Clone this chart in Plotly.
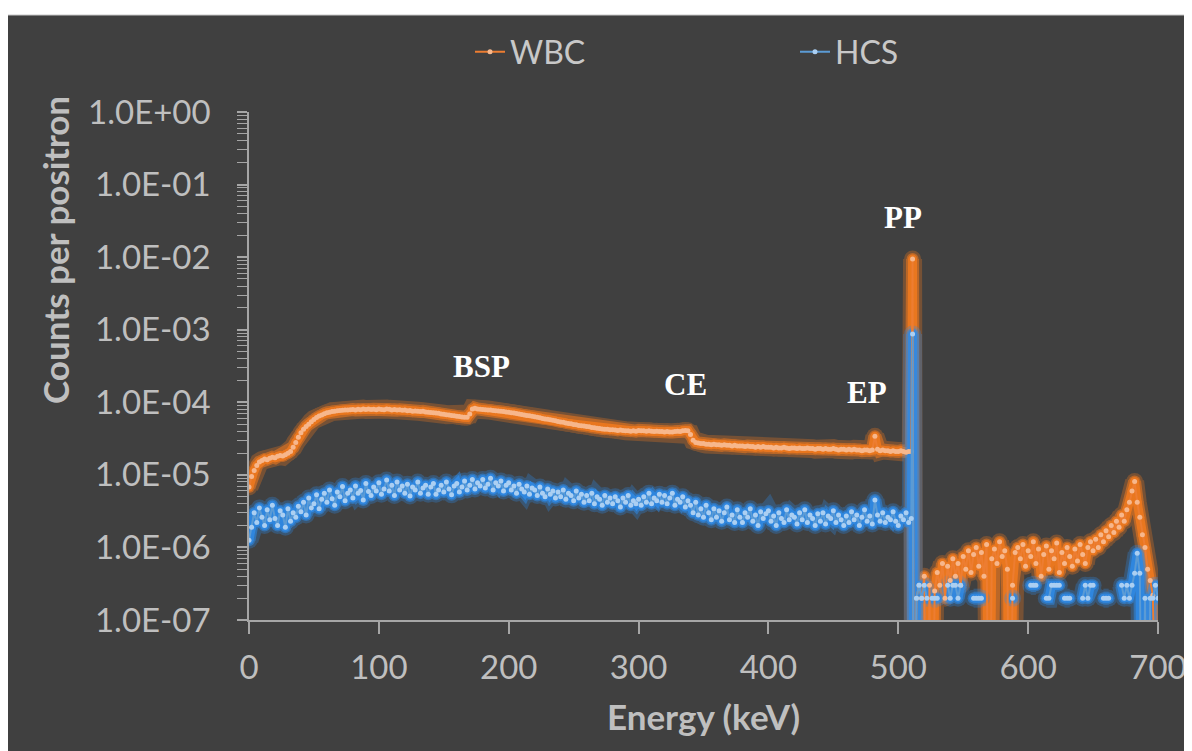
import plotly.graph_objects as go

# ---------------- data (counts per positron, in units of 1e-8) ----------------
# energy bins (keV)
energy_low = list(range(0, 511, 2))      # 0 .. 510
energy_peak = [511]
energy_tail = list(range(512, 701, 2))   # 512 .. 700

wbc_low = [
    680, 950, 1150, 1350, 1500, 1580, 1650, 1620, 1700, 1750,
    1720, 1800, 1850, 1820, 1900, 1980, 2100, 2400, 2800, 3300,
    3800, 4250, 4650, 5000, 5400, 5800, 6150, 6450, 6700, 6950,
    7150, 7300, 7450, 7500, 7650, 7700, 7750, 7850, 7800, 7900,
    7950, 7850, 8000, 7900, 8050, 7950, 8100, 7950, 8000, 7900,
    8050, 7950, 7900, 8100, 8000, 7850, 7950, 7800, 7900, 7750,
    7800, 7650, 7700, 7550, 7600, 7500, 7450, 7500, 7350, 7300,
    7250, 7200, 7100, 7050, 6900, 6850, 6750, 6700, 6600, 6500,
    6400, 6350, 6250, 6200, 6200, 6900, 8100, 8300, 8100, 8000,
    7950, 7900, 7850, 7800, 7700, 7650, 7600, 7500, 7450, 7350,
    7300, 7200, 7100, 7000, 6900, 6800, 6700, 6600, 6500, 6400,
    6300, 6200, 6100, 6000, 5900, 5850, 5750, 5650, 5550, 5450,
    5350, 5300, 5200, 5100, 5050, 4950, 4900, 4800, 4750, 4700,
    4650, 4600, 4500, 4450, 4400, 4350, 4300, 4250, 4250, 4200,
    4200, 4150, 4100, 4150, 4100, 4050, 4050, 4000, 4050, 4000,
    4100, 4050, 4050, 4000, 4050, 4000, 3950, 4000, 3950, 3950,
    3900, 3950, 3900, 3900, 3950, 4000, 3950, 4050, 4100, 4050,
    3600, 3000, 2800, 2750, 2700, 2700, 2650, 2650, 2600, 2650,
    2600, 2600, 2550, 2600, 2550, 2550, 2500, 2550, 2500, 2500,
    2500, 2450, 2500, 2450, 2450, 2400, 2450, 2400, 2450, 2400,
    2400, 2400, 2350, 2400, 2350, 2350, 2400, 2350, 2300, 2350,
    2350, 2300, 2350, 2300, 2300, 2350, 2300, 2300, 2250, 2300,
    2300, 2250, 2300, 2250, 2250, 2300, 2250, 2200, 2250, 2250,
    2200, 2250, 2200, 2250, 2200, 2200, 2150, 2200, 2200, 2150,
    2200, 3400, 2250, 2150, 2200, 2150, 2150, 2100, 2150, 2100,
    2100, 2150, 2100, 2050, 2100, 2100,
]
wbc_peak = [940000]
wbc_tail = [
    0, 20, 30, 20, 40, 0, 30, 0, 25, 45,
    30, 60, 20, 55, 35, 70, 40, 60, 30, 75,
    50, 90, 45, 80, 100, 55, 85, 40, 110, 0,
    70, 95, 60, 120, 75, 90, 50, 0, 30, 85,
    100, 70, 110, 55, 90, 75, 120, 60, 95, 40,
    80, 105, 50, 90, 70, 115, 45, 85, 60, 100,
    75, 55, 95, 65, 110, 80, 60, 100, 120, 90,
    130, 100, 150, 120, 170, 140, 200, 160, 230, 190,
    280, 230, 330, 420, 600, 810, 420, 260, 150, 100,
    50, 35, 22, 0, 0,
]

hcs_low = [
    126, 190, 300, 220, 350, 260, 200, 330, 240, 380,
    250, 200, 320, 280, 190, 340, 230, 300, 260, 370,
    310, 420, 280, 480, 350, 400, 530, 340, 460, 560,
    420, 620, 470, 380, 580, 500, 690, 440, 560, 620,
    480, 700, 560, 610, 450, 760, 590, 520, 680, 600,
    780, 540, 640, 850, 600, 720, 520, 800, 620, 700,
    560, 740, 510, 680, 620, 800, 560, 660, 720, 540,
    680, 760, 540, 620, 720, 580, 800, 640, 530, 700,
    760, 580, 680, 820, 620, 720, 860, 640, 780, 700,
    860, 660, 740, 900, 620, 780, 700, 820, 600, 720,
    780, 620, 700, 560, 740, 640, 580, 700, 540, 660,
    620, 520, 680, 560, 500, 640, 540, 600, 480, 580,
    500, 620, 460, 560, 520, 440, 600, 480, 540, 420,
    520, 440, 560, 400, 500, 460, 380, 520, 420, 480,
    400, 500, 440, 360, 480, 420, 520, 380, 440, 400,
    460, 380, 500, 420, 560, 400, 480, 440, 540, 420,
    520, 400, 480, 560, 380, 460, 420, 500, 360, 440,
    380, 300, 420, 280, 340, 260, 380, 300, 240, 340,
    260, 320, 230, 300, 360, 240, 280, 220, 330, 260,
    220, 300, 260, 340, 230, 280, 200, 310, 250, 290,
    320, 230, 270, 200, 300, 250, 220, 330, 240, 280,
    260, 210, 300, 240, 330, 220, 280, 250, 200, 290,
    230, 300, 210, 270, 250, 320, 220, 280, 240, 200,
    270, 220, 310, 240, 280, 200, 260, 330, 230, 270,
    210, 450, 280, 230, 300, 220, 260, 240, 310, 230,
    200, 270, 240, 300, 220, 250,
]
hcs_peak = [87000]
hcs_tail = [
    0, 20, 30, 20, 30, 20, None, 20, 20, 20,
    None, None, None, 30, 20, 30, 30, 20, 30, None,
    None, None, None, 20, 20, 20, 20, None, None, None,
    None, None, None, None, None, None, None, None, 20, None,
    None, None, None, None, None, 30, 30, 30, None, None,
    None, 20, 20, 30, 30, 30, 30, None, 20, 20,
    20, None, None, None, None, 20, 30, 20, 30, 30,
    None, None, None, 20, 20, 20, None, None, None, None,
    30, 20, 30, 20, 30, 44, 83, 44, 0, 20,
    0, 20, 20, 30, 20,
]

assert len(energy_low) == len(wbc_low) == len(hcs_low)
assert len(energy_tail) == len(wbc_tail) == len(hcs_tail)

energy = energy_low + energy_peak + energy_tail
UNIT = 1e-8
FLOOR = 1e-10  # zero counts: drawn below the axis floor (line drops to axis)


def to_y(values):
    out = []
    for v in values:
        if v is None:
            out.append(None)
        elif v == 0:
            out.append(FLOOR)
        else:
            out.append(v * UNIT)
    return out


wbc = to_y(wbc_low + wbc_peak + wbc_tail)
hcs = to_y(hcs_low + hcs_peak + hcs_tail)

# ---------------- styling ----------------
BG = "#404040"
AXIS = "#a6a6a6"
TXT = "#bfbfbf"
ORANGE = "#ed7d31"
ORANGE_MK = "#f7b78c"
BLUE = "#5b9bd5"
BLUE_MK = "#abcff2"
GLOW_O = "#f27a1e"
GLOW_B = "#2f8ae6"

fig = go.Figure()

# soft glow layers around each series
for y, col in ((wbc, GLOW_O), (hcs, GLOW_B)):
    for lw, ms, op in ((19, 17, 0.3), (13, 12, 0.55), (9, 9, 0.85)):
        fig.add_trace(go.Scatter(
            x=energy, y=y, mode="lines+markers", showlegend=False,
            hoverinfo="skip", line=dict(color=col, width=lw),
            marker=dict(color=col, size=ms), opacity=op, connectgaps=False,
        ))

fig.add_trace(go.Scatter(
    x=energy, y=wbc, name="WBC", mode="lines+markers", connectgaps=False,
    line=dict(color=ORANGE, width=2), marker=dict(color=ORANGE_MK, size=5),
))
fig.add_trace(go.Scatter(
    x=energy, y=hcs, name="HCS", mode="lines+markers", connectgaps=False,
    line=dict(color=BLUE, width=2), marker=dict(color=BLUE_MK, size=5),
))

# The page body has an 8px margin: the figure starts at page pixel (8, 8).
OFF = 8
W, H = 1192 - OFF, 751 - OFF
L, R, T, B = 249 - OFF, 34, 112 - OFF, 131
PW, PH = W - L - R, H - T - B


def px_x(page_px):
    return (page_px - OFF - L) / PW


def px_y(page_py):
    return (H - B - (page_py - OFF)) / PH


y_tickvals = [10.0 ** d for d in range(0, -8, -1)]
y_ticktext = ["1.0E+00", "1.0E-01", "1.0E-02", "1.0E-03",
              "1.0E-04", "1.0E-05", "1.0E-06", "1.0E-07"]
y_minor = [k * 10.0 ** d for d in range(-7, 0) for k in range(2, 10)]

fig.update_xaxes(
    range=[0, 700], tickvals=list(range(0, 701, 100)),
    ticks="outside", ticklen=12, tickwidth=1.5, tickcolor=AXIS,
    showline=True, linecolor=AXIS, linewidth=1.5,
    showgrid=False, zeroline=False,
    tickfont=dict(family="Lato", size=33, color=TXT),
    ticklabelstandoff=6,
    title=dict(text="Energy (keV)", standoff=20,
               font=dict(family="Lato", size=35, color=TXT, weight="bold")),
)
fig.update_yaxes(
    type="log", range=[-7, 0], tickvals=y_tickvals, ticktext=y_ticktext,
    ticks="outside", ticklen=10, tickwidth=1.5, tickcolor=AXIS,
    minor=dict(tickvals=y_minor, ticks="outside", ticklen=10,
               tickwidth=1.2, tickcolor=AXIS, showgrid=False),
    showline=True, linecolor=AXIS, linewidth=1.5,
    showgrid=False, zeroline=False,
    tickfont=dict(family="Lato", size=33, color=TXT),
    ticklabelstandoff=20,
)

ann_font = dict(family="Liberation Serif", size=31, color="white", weight="bold")
annotations = [
    dict(x=179.4, y=-3.51, text="BSP"),
    dict(x=336.5, y=-3.75, text="CE"),
    dict(x=475.9, y=-3.87, text="EP"),
    dict(x=503.6, y=-1.447, text="PP"),
]
for a in annotations:
    a.update(xref="x", yref="y", showarrow=False, font=ann_font,
             xanchor="center", yanchor="middle")

annotations.append(dict(
    xref="paper", yref="paper", x=px_x(55), y=px_y(250),
    text="Counts per positron", textangle=-90, showarrow=False,
    font=dict(family="Lato", size=35, color=TXT, weight="bold"),
    xanchor="center", yanchor="middle",
))

shapes = [
    dict(type="rect", xref="paper", yref="paper", layer="below",
         x0=px_x(-20), x1=px_x(1220), y0=px_y(15), y1=px_y(-20),
         fillcolor="white", line=dict(width=0)),
    dict(type="line", xref="paper", yref="paper", layer="below",
         x0=px_x(8), x1=px_x(1220), y0=px_y(15), y1=px_y(15),
         line=dict(color="#c8c8c8", width=1)),
]

fig.update_layout(
    width=W, height=H,
    margin=dict(l=L, r=R, t=T, b=B, autoexpand=False),
    paper_bgcolor=BG, plot_bgcolor=BG,
    font=dict(family="Lato", color=TXT, size=32),
    legend=dict(orientation="h", x=px_x(470), y=px_y(52),
                xanchor="left", yanchor="middle",
                font=dict(family="Lato", size=32, color="#c8c8c8"),
                bgcolor="rgba(0,0,0,0)", entrywidth=280, itemwidth=30),
    annotations=annotations,
    shapes=shapes,
    hovermode=False,
)

fig.write_html("out.html")
